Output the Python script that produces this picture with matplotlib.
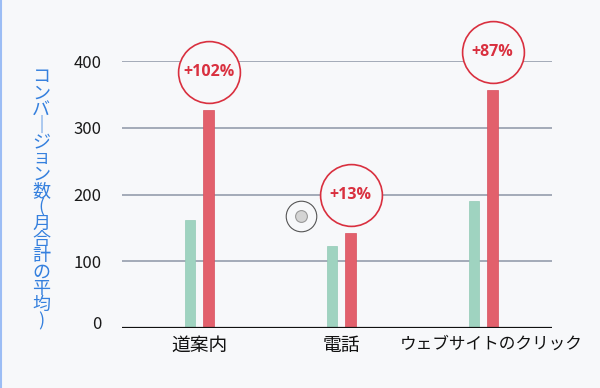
import matplotlib
matplotlib.use("Agg")
import matplotlib.pyplot as plt
import numpy as np
from matplotlib.transforms import offset_copy, ScaledTranslation
from matplotlib.lines import Line2D

plt.rcParams['font.family'] = ['Noto Sans CJK JP', 'DejaVu Sans']

categories = ["道案内", "電話", "ウェブサイトのクリック"]
before = [162, 123, 190]
after = [327, 142, 356]
changes = ["+102%", "+13%", "+87%"]
yticks = [0, 100, 200, 300, 400]
ylabel_chars = ["コ", "ン", "バ", "｜", "ジ", "ョ", "ン", "数", "(", "月", "合", "計", "の", "平", "均", ")"]

BG = "#f7f8fa"
TEAL = "#9fd3c0"
RED = "#e2606c"
CIRCLE_RED = "#d9303f"
GRID = "#8c96a6"
BLUE = "#3580de"

fig = plt.figure(figsize=(6, 3.88), dpi=100, facecolor=BG)
ax = fig.add_axes([0.2033, 0.1546, 0.7167, 0.6881], facecolor=BG)

x = np.arange(len(categories))
off = 0.066
w = 0.075
ax.bar(x - off, before, width=w, color=TEAL, edgecolor="#93cbb6", linewidth=0.5, zorder=3)
ax.bar(x + off, after, width=w, color=RED, edgecolor="#d9505e", linewidth=0.5, zorder=3)

ax.set_xlim(-0.544, 2.484)
ax.set_ylim(0, 400)
ax.set_yticks(yticks)
ax.set_xticks(x)
ax.set_xticklabels(categories, fontsize=13.5, color="#111111")
ax.tick_params(axis="x", length=0, pad=5)
ax.tick_params(axis="y", length=0, pad=15, labelsize=12, labelcolor="#1a1a1a")
for s in ax.spines.values():
    s.set_visible(False)
ax.grid(axis="y", color=GRID, linewidth=1.1, zorder=0)
ax.axhline(0, color="#111111", linewidth=1.6, zorder=4)

# long katakana label: narrower and slightly right, as in reference
xl = ax.get_xticklabels()[2]
xl.set_fontsize(12)
xl.set_transform(xl.get_transform() + ScaledTranslation(8 / 100, -1 / 100, fig.dpi_scale_trans))

# lift the "0" label slightly, as in reference
lbl = ax.yaxis.get_major_ticks()[0].label1
lbl.set_transform(lbl.get_transform() + ScaledTranslation(0, 6 / 100, fig.dpi_scale_trans))

# change circles above red bars
for xi, v, t in zip(x, after, changes):
    tr = offset_copy(ax.transData, fig=fig, x=0, y=38, units="dots")
    ax.plot([xi + off], [v], marker="o", markersize=44.5, markerfacecolor=BG,
            markeredgecolor=CIRCLE_RED, markeredgewidth=1.2, transform=tr,
            clip_on=False, zorder=5)
    ax.text(xi + off, v, t, transform=tr, ha="center", va="center",
            fontsize=11.5, fontweight="bold", color=CIRCLE_RED, zorder=6,
            family=["Open Sans", "DejaVu Sans"], clip_on=False)

# vertical y label (stacked characters)
top_y = 1 - 77 / 388
step = 16.3 / 388
for i, ch in enumerate(ylabel_chars):
    fig.text(41 / 600, top_y - i * step, ch, ha="center", va="center",
             fontsize=13, color=BLUE)

# small grey cursor-like marker
fig.add_artist(Line2D([300.7 / 600], [1 - 215.5 / 388], marker="o", markersize=22,
                      markerfacecolor="none", markeredgecolor="#555555",
                      markeredgewidth=0.8, transform=fig.transFigure))
fig.add_artist(Line2D([300.7 / 600], [1 - 215.5 / 388], marker="o", markersize=8.5,
                      markerfacecolor="#d4d4d4", markeredgecolor="#999999",
                      markeredgewidth=0.8, transform=fig.transFigure))

# left blue border
fig.add_artist(Line2D([0.0015, 0.0015], [0, 1], color="#9cbdf5", linewidth=1.5,
                      transform=fig.transFigure))

fig.savefig("out.png", dpi=100, facecolor=BG)
